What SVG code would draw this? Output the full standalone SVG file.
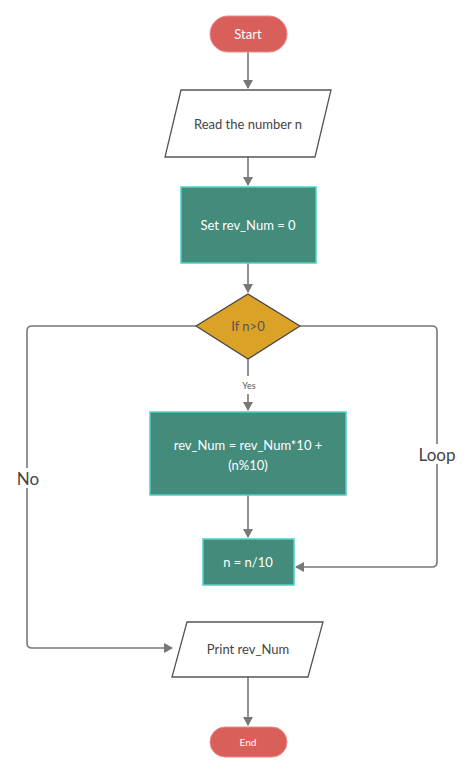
<svg xmlns="http://www.w3.org/2000/svg" width="474" height="773" viewBox="0 0 474 773">
<style>
text{font-family:Lato,"Liberation Sans",sans-serif;text-anchor:middle;dominant-baseline:central}
.c{stroke:#777;stroke-width:1.6;fill:none}
.t{fill:#fff;font-size:13px}
.g{fill:#438b7b;stroke:#4fd1c5;stroke-width:1.5}
.p{fill:#fff;stroke:#555;stroke-width:1.3}
.d{fill:#444;font-size:13px}
</style>
<defs><marker id="a" markerWidth="10" markerHeight="10" refX="8" refY="5" orient="auto" markerUnits="userSpaceOnUse"><path d="M0,0L9,5L0,10z" fill="#777"/></marker></defs>
<rect width="474" height="773" fill="#fff"/>
<g id="connectors">
<path class="c" d="M248,52V88" marker-end="url(#a)"/>
<path class="c" d="M248,157V185" marker-end="url(#a)"/>
<path class="c" d="M248,263V292" marker-end="url(#a)"/>
<path class="c" d="M248,359V376M248,394V410" marker-end="url(#a)"/>
<path class="c" d="M248,495V537" marker-end="url(#a)"/>
<path class="c" d="M300,326H432Q437,326 437,331V562Q437,567 432,567H296" marker-end="url(#a)"/>
<path class="c" d="M196,326H32Q27,326 27,331V643Q27,648 32,648H172" marker-end="url(#a)"/>
<path class="c" d="M248,677V725" marker-end="url(#a)"/>
<text x="249" y="385" fill="#555" font-size="9">Yes</text>
<rect x="415" y="444" width="44" height="20" fill="#fff"/>
<text x="437" y="454" fill="#444" font-size="17">Loop</text>
<rect x="12" y="468" width="32" height="20" fill="#fff"/>
<text x="28" y="478" fill="#444" font-size="17">No</text>
</g>
<g id="start"><rect x="210" y="16" width="77" height="36" rx="18" fill="#d9605a" stroke="#e88" stroke-width="1"/><text class="t" x="248" y="34">Start</text></g>
<g id="read"><path class="p" d="M181,90H331L315,157H165Z"/><text class="d" x="248" y="124">Read the number n</text></g>
<g id="set"><rect class="g" x="181" y="187" width="135" height="76"/><text class="t" x="248" y="225">Set rev_Num = 0</text></g>
<g id="if"><path d="M248,294L300,326L248,359L196,326Z" fill="#dba228" stroke="#444" stroke-width="1.2"/><text x="248" y="326" fill="#555" font-size="13">If n&gt;0</text></g>
<g id="calc"><rect class="g" x="150" y="412" width="196" height="83"/><text class="t" x="248" y="445">rev_Num = rev_Num*10 +</text><text class="t" x="248" y="465">(n%10)</text></g>
<g id="div"><rect class="g" x="203" y="539" width="91" height="46"/><text class="t" x="248" y="562">n = n/10</text></g>
<g id="print"><path class="p" d="M187,622H323L308,677H172Z"/><text class="d" x="248" y="649">Print rev_Num</text></g>
<g id="end"><rect x="210" y="727" width="77" height="30" rx="15" fill="#d9605a" stroke="#e88" stroke-width="1"/><text x="248" y="742" fill="#fff" font-size="10">End</text></g>
</svg>
